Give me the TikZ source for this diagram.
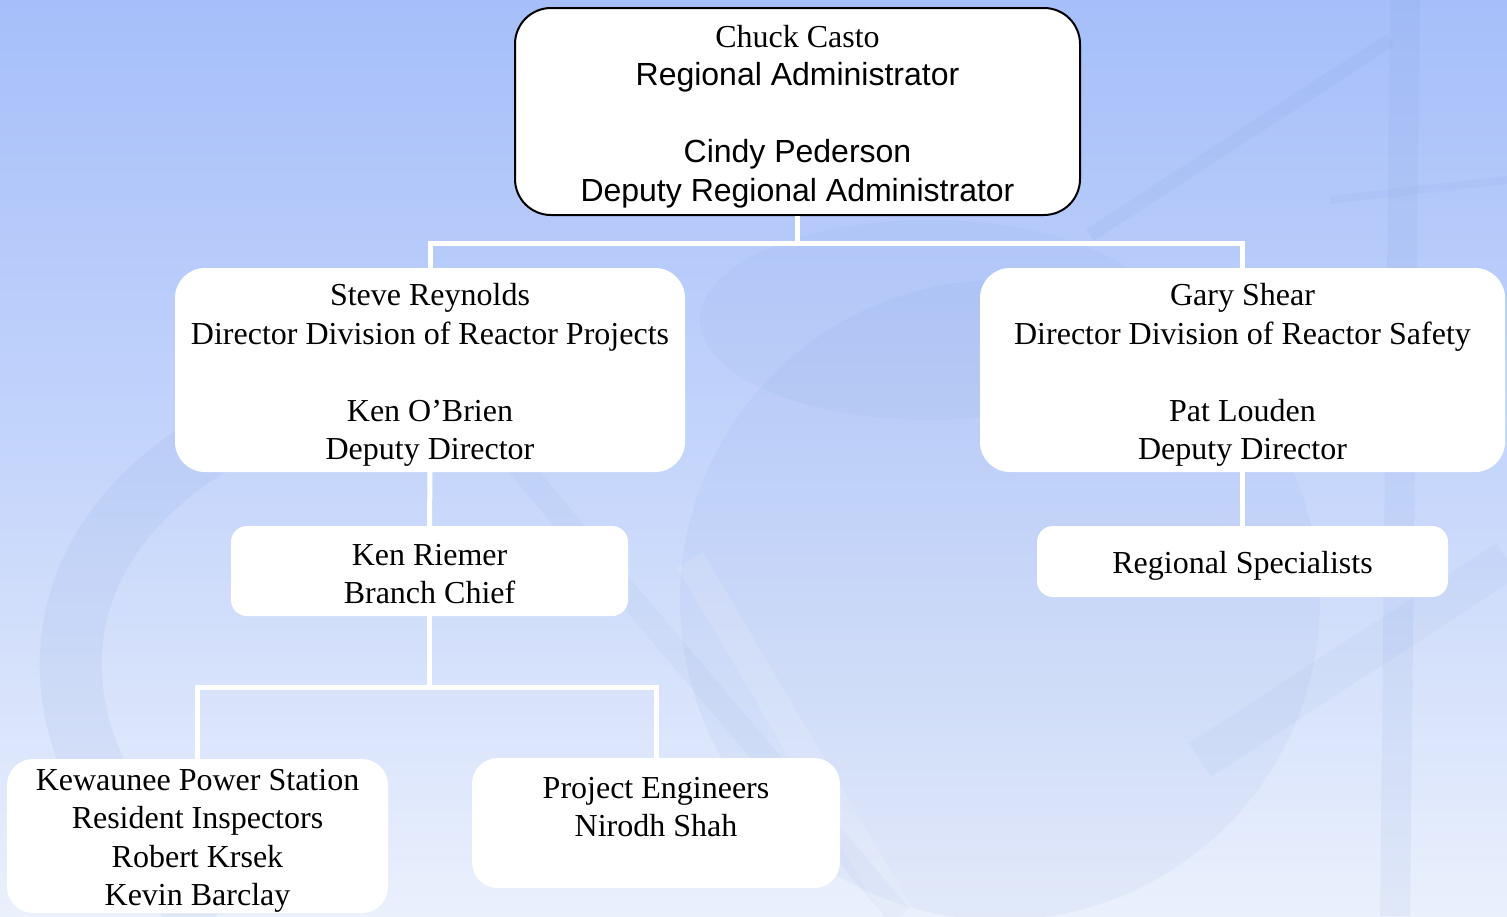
\documentclass[tikz,border=0pt]{standalone}
\usepackage{fontspec}
\setmainfont{Liberation Serif}
\newfontfamily\arialfont{Liberation Sans}
\definecolor{bgtop}{HTML}{A6BFFA}
\definecolor{bgbot}{HTML}{EAF0FC}
\definecolor{logoblue}{HTML}{5F82CC}
\tikzset{
  unitbox/.style={fill=white, inner sep=0pt},
  headbox/.style={unitbox, draw=black, line width=2pt, rounded corners=36pt},
  bigbox/.style={unitbox, rounded corners=30pt},
  smallbox/.style={unitbox, rounded corners=16pt},
  unittext/.style={align=center, inner sep=0pt, text=black,
    font=\fontsize{32}{38.5}\selectfont},
  conn/.style={draw=white, line width=5pt, line join=miter},
  logo/.style={logoblue, opacity=0.08}
}
\begin{document}
\begin{tikzpicture}[x=1pt, y=-1pt]
% backdrop: soft blue gradient with the faint agency emblem
\shade[top color=bgtop, bottom color=bgbot, middle color=bgtop!55!bgbot]
  (0,0) rectangle (1507,916);
\useasboundingbox (0,0) rectangle (1507,916);
\fill[logo, opacity=0.06] (1000,600) circle (320);
\fill[logo, opacity=0.05] (930,320) ellipse (230 and 100);
\draw[logo, line width=62pt, line cap=round]
  (330,395) .. controls (60,470) and (-20,700) .. (190,900);
\draw[logo, line width=24pt, opacity=0.05] (480,420) -- (900,916);
\draw[logo, line width=30pt, opacity=0.07] (1405,0) -- (1395,916);
\draw[logo, line width=14pt, opacity=0.07] (1090,235) -- (1390,40);
\draw[logo, line width=8pt, opacity=0.06] (1330,200) -- (1507,180);
\draw[logo, line width=40pt, opacity=0.05] (1507,560) -- (1200,760);
\draw[white, line width=30pt, opacity=0.12] (690,560) -- (900,916);

% organisation units (box, then its text set slightly below centre)
\node[headbox, minimum width=565pt, minimum height=207pt] (top) at (797.5,111.5) {};
\node[unittext] (top-t) at ([yshift=-5pt]top.center)
  {Chuck Casto\\ {\arialfont Regional Administrator}\\[38.5pt]
   {\arialfont Cindy Pederson}\\ {\arialfont Deputy Regional Administrator}};
\node[bigbox, minimum width=510pt, minimum height=204pt] (drp) at (430,370) {};
\node[unittext] (drp-t) at ([yshift=-5pt]drp.center)
  {Steve Reynolds\\ Director Division of Reactor Projects\\[38.5pt]
   Ken O'Brien\\ Deputy Director};
\node[bigbox, minimum width=525pt, minimum height=204pt] (drs) at (1242.5,370) {};
\node[unittext] (drs-t) at ([yshift=-5pt]drs.center)
  {Gary Shear\\ Director Division of Reactor Safety\\[38.5pt]
   Pat Louden\\ Deputy Director};
\node[smallbox, minimum width=397pt, minimum height=90pt] (branch) at (429.5,571) {};
\node[unittext] (branch-t) at ([yshift=-3pt]branch.center)
  {Ken Riemer\\ Branch Chief};
\node[smallbox, minimum width=411pt, minimum height=71pt] (spec) at (1242.5,561.5) {};
\node[unittext] (spec-t) at ([yshift=-4pt]spec.center)
  {Regional Specialists};
\node[bigbox, rounded corners=26pt, minimum width=381pt, minimum height=154pt] (kew) at (197.5,836) {};
\node[unittext] (kew-t) at ([yshift=-5pt]kew.center)
  {Kewaunee Power Station\\ Resident Inspectors\\ Robert Krsek\\ Kevin Barclay};
\node[bigbox, rounded corners=26pt, minimum width=368pt, minimum height=130pt] (pe) at (656,823) {};
\node[unittext] (pe-t) at ([yshift=-3pt]pe.center)
  {Project Engineers\\ Nirodh Shah\\ ~};

% reporting lines
\coordinate (j1) at (797.5,243);
\coordinate (j2) at (429.5,687);
\draw[conn] (top.south) -- (j1);
\draw[conn] (drp.north) |- (j1) -| (drs.north);
\draw[conn] (drp.south) -- (branch.north);
\draw[conn] (drs.south) -- (spec.north);
\draw[conn] (branch.south) -- (j2);
\draw[conn] (kew.north) |- (j2) -| (pe.north);
\end{tikzpicture}
\end{document}
